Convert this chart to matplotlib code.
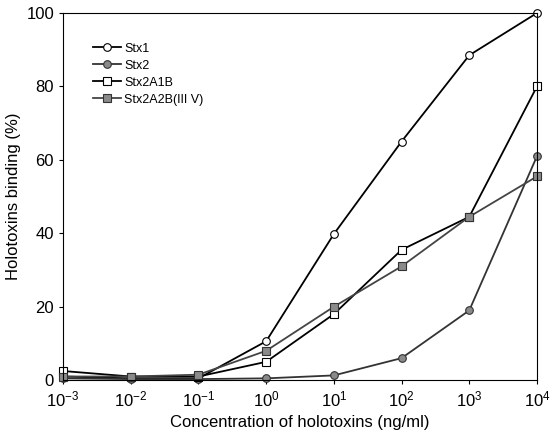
import numpy as np
from matplotlib import pyplot as plt

plt.rcParams['font.family'] = ['Liberation Sans', 'DejaVu Sans']

conc = [1e-3, 1e-2, 1e-1, 1e0, 1e1, 1e2, 1e3, 1e4]
stx1 = [1.0, 0.5, 0.5, 10.6, 39.8, 65.0, 88.5, 100.0]
stx2 = [0.5, 0.3, 0.3, 0.5, 1.3, 6.0, 19.0, 61.0]
stx2a1b = [2.5, 1.0, 1.0, 5.0, 18.0, 35.5, 44.5, 80.0]
stx2a2b = [1.0, 1.0, 1.5, 8.0, 20.0, 31.0, 44.5, 55.5]


def main():
    fig = plt.figure(figsize=(5.53, 4.34), dpi=100)
    ax = fig.add_axes([0.114, 0.124, 0.857, 0.846])

    ax.plot(conc, stx1, color='black', lw=1.3, marker='o', ms=5.5,
            mfc='white', mec='black', mew=0.8, label='Stx1', clip_on=False)
    ax.plot(conc, stx2, color='#333333', lw=1.3, marker='o', ms=5.5,
            mfc='#8a8a8a', mec='#333333', mew=0.8, label='Stx2', clip_on=False)
    ax.plot(conc, stx2a1b, color='black', lw=1.3, marker='s', ms=5.5,
            mfc='white', mec='black', mew=0.8, label='Stx2A1B', clip_on=False)
    ax.plot(conc, stx2a2b, color='#444444', lw=1.3, marker='s', ms=5.5,
            mfc='#8a8a8a', mec='#333333', mew=0.8, label='Stx2A2B(III V)',
            clip_on=False)

    ax.set_xscale('log')
    ax.set_xlim(1e-3, 1e4)
    ax.set_ylim(0, 100)
    ax.set_xticks(conc)
    ax.minorticks_off()
    ax.set_yticks([0, 20, 40, 60, 80, 100])
    ax.tick_params(labelsize=12, length=3)

    ax.set_xlabel('Concentration of holotoxins (ng/ml)', fontsize=12)
    ax.set_ylabel('Holotoxins binding (%)', fontsize=12)

    ax.legend(loc='upper left', bbox_to_anchor=(0.04, 0.95), frameon=False,
              fontsize=9, handlelength=2.2, labelspacing=0.4, handletextpad=0.3)

    fig.savefig('out.png', dpi=100)


if __name__ == "__main__":
    main()
